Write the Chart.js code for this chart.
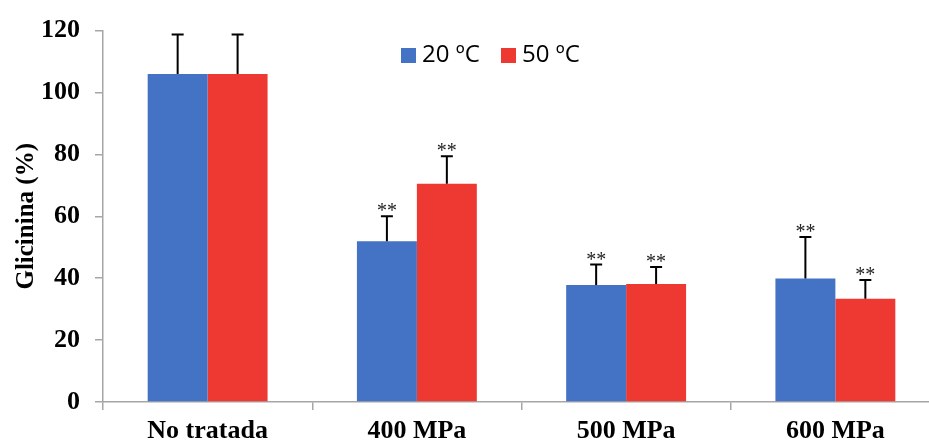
<!DOCTYPE html>
<html>
<head>
<meta charset="utf-8">
<script src="https://cdn.jsdelivr.net/npm/chart.js@4.4.0/dist/chart.umd.min.js"></script>
<style>
html,body{margin:0;padding:0;background:#fff;overflow:hidden;width:929px;height:443px;}
#wrap{position:relative;width:945px;height:460px;}
</style>
</head>
<body>
<div id="wrap"><canvas id="c" width="945" height="460"></canvas></div>
<script>
const categories = ["No tratada", "400 MPa", "500 MPa", "600 MPa"];
const seriesLabels = ["20 ºC", "50 ºC"];
const values20 = [106, 51.9, 37.8, 39.9];
const values50 = [106, 70.5, 38.1, 33.4];
const err20 = [12.7, 8.1, 6.6, 13.4];
const err50 = [12.7, 8.9, 5.5, 6.0];
const sig20 = ["", "**", "**", "**"];
const sig50 = ["", "**", "**", "**"];
const yTicks = [0, 20, 40, 60, 80, 100, 120];

const colors = ["#4472C4", "#EE3932"];

const errorPlugin = {
  id: 'errs',
  afterDatasetsDraw(chart) {
    const ctx = chart.ctx;
    const y = chart.scales.y;
    const errs = [err20, err50];
    const sigs = [sig20, sig50];
    chart.data.datasets.forEach((ds, di) => {
      const meta = chart.getDatasetMeta(di);
      meta.data.forEach((bar, i) => {
        const v = ds.data[i];
        const top = y.getPixelForValue(v + errs[di][i]);
        const base = y.getPixelForValue(v);
        ctx.save();
        ctx.strokeStyle = '#000';
        ctx.lineWidth = 2;
        ctx.beginPath();
        ctx.moveTo(bar.x, base);
        ctx.lineTo(bar.x, top);
        ctx.moveTo(bar.x - 6, top);
        ctx.lineTo(bar.x + 6, top);
        ctx.stroke();
        if (sigs[di][i]) {
          ctx.fillStyle = '#222';
          ctx.font = '20px "Liberation Serif", serif';
          ctx.textAlign = 'center';
          ctx.textBaseline = 'alphabetic';
          ctx.fillText(sigs[di][i], bar.x, top + 1);
        }
        ctx.restore();
      });
    });
  }
};

const legendPlugin = {
  id: 'customLegend',
  afterDraw(chart) {
    const ctx = chart.ctx;
    ctx.save();
    ctx.font = '24px "Open Sans", "Liberation Sans", sans-serif';
    ctx.textBaseline = 'middle';
    const positions = [401, 501];
    chart.data.datasets.forEach((ds, di) => {
      const x = positions[di];
      const yc = 55.5;
      ctx.fillStyle = ds.backgroundColor;
      ctx.fillRect(x, yc - 7.5, 15, 15);
      ctx.fillStyle = '#000';
      ctx.fillText(ds.label, x + 21, yc);
    });
    ctx.restore();
  }
};

new Chart(document.getElementById('c'), {
  type: 'bar',
  data: {
    labels: categories,
    datasets: [
      { label: seriesLabels[0], data: values20, backgroundColor: colors[0] },
      { label: seriesLabels[1], data: values50, backgroundColor: colors[1] }
    ]
  },
  options: {
    responsive: false,
    animation: false,
    devicePixelRatio: 1,
    categoryPercentage: 0.573,
    barPercentage: 1.0,
    layout: { padding: { top: 30, left: 12, right: 5, bottom: 0 } },
    plugins: { legend: { display: false }, tooltip: { enabled: false } },
    scales: {
      x: {
        grid: { display: true, drawOnChartArea: false, offset: true, color: '#A6A6A6', tickLength: 8, lineWidth: 1.5 },
        border: { color: '#A6A6A6', width: 1.5 },
        ticks: { color: '#000', font: { family: '"Liberation Serif", serif', size: 26, weight: 'bold' }, padding: 6 },
        afterFit(s) { s.height = 58; }
      },
      y: {
        min: 0, max: 120,
        afterBuildTicks(s) { s.ticks = yTicks.map(v => ({ value: v })); },
        grid: { display: true, drawOnChartArea: false, color: '#A6A6A6', tickLength: 8, lineWidth: 1.5 },
        border: { color: '#A6A6A6', width: 1.5 },
        ticks: { color: '#000', font: { family: '"Liberation Serif", serif', size: 26, weight: 'bold' }, padding: 15 },
        title: { display: true, text: 'Glicinina (%)', color: '#000', font: { family: '"Liberation Serif", serif', size: 25, weight: 'bold' }, padding: 0 },
        afterFit(s) { s.width = 91; }
      }
    }
  },
  plugins: [errorPlugin, legendPlugin]
});
</script>
</body>
</html>
